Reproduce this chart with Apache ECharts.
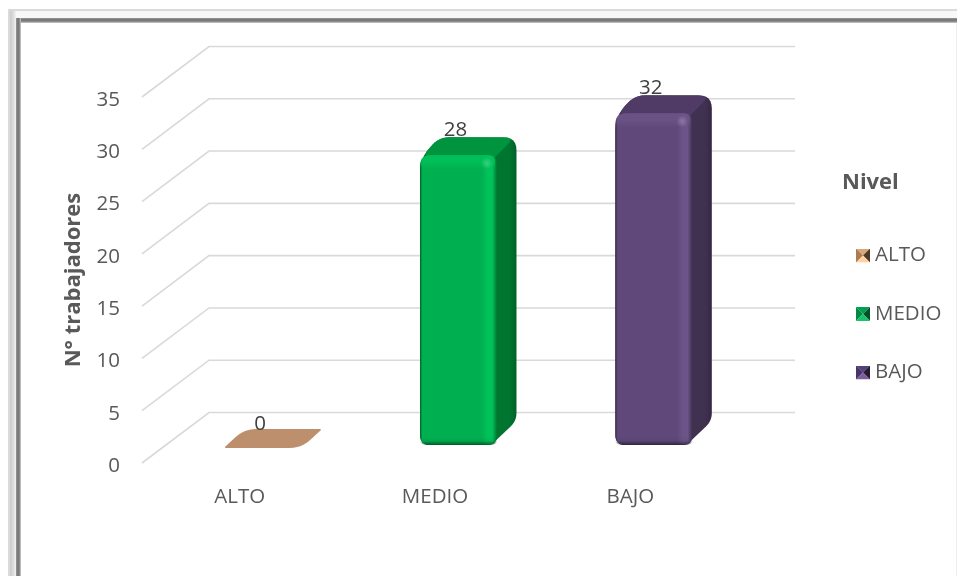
<!DOCTYPE html>
<html><head><meta charset="utf-8">
<style>html,body{margin:0;padding:0;background:#fff}#c{width:957px;height:576px}</style>
<script src="https://cdn.jsdelivr.net/npm/echarts@6/dist/echarts.min.js"></script>
</head><body><div id="c"></div>
<script>
var categories = ['ALTO', 'MEDIO', 'BAJO'];
var values = [0, 28, 32];
var yTicks = [0, 5, 10, 15, 20, 25, 30, 35];
var faceColors = ['#BE8F6D', '#00B050', '#60497A'];
var lightColors = ['#BE8F6D', '#00C25A', '#6C5488'];
var topColors = ['#BE8F6D', '#00943F', '#4F3B66'];
var sideColors = ['#BE8F6D', '#00752F', '#403151'];
var edgeColors = ['#BE8F6D', '#00602A', '#352843'];
var markerLight = ['#FFD0A0', '#17C46B', '#7A5F9C'];
var markerDark = ['#4E3A28', '#00502A', '#241A33'];
var markerTop = ['#D9A878', '#00A050', '#55407A'];
var markerLeft = ['#A97C52', '#008A45', '#46346A'];

function roundPoly(pts, radii) {
  var out = [], n = pts.length;
  for (var i = 0; i < n; i++) {
    var p = pts[i], a = pts[(i + n - 1) % n], b = pts[(i + 1) % n];
    var r = radii[i];
    var la = Math.hypot(a[0]-p[0], a[1]-p[1]) || 1, lb = Math.hypot(b[0]-p[0], b[1]-p[1]) || 1;
    var ra = Math.min(r, la/2), rb = Math.min(r, lb/2);
    var s = [p[0]+(a[0]-p[0])*ra/la, p[1]+(a[1]-p[1])*ra/la];
    var e = [p[0]+(b[0]-p[0])*rb/lb, p[1]+(b[1]-p[1])*rb/lb];
    for (var t = 0; t <= 6; t++) {
      var u = t/6;
      out.push([(1-u)*(1-u)*s[0]+2*u*(1-u)*p[0]+u*u*e[0], (1-u)*(1-u)*s[1]+2*u*(1-u)*p[1]+u*u*e[1]]);
    }
  }
  return out;
}
function lin(x0,y0,x1,y1,stops){return {type:'linear',x:x0,y:y0,x2:x1,y2:y1,colorStops:stops.map(function(s){return {offset:s[0],color:s[1]};})};}

var FLOOR_DX = 23.5, FLOOR_DY = -15, DEPTH_DX = 19.5, DEPTH_DY = -18, BAR_RATIO = 0.394;

function barItem(idx) {
  return function (params, api) {
    var c = api.value(0), v = api.value(1);
    var base = api.coord([c, 0]), topP = api.coord([c, v]);
    var w = api.size([1, 0])[0] * BAR_RATIO;
    var l = base[0] + FLOOR_DX - w/2, r = l + w;
    var yb = base[1] + FLOOR_DY, yt = topP[1] + FLOOR_DY;
    var labelX = base[0] + FLOOR_DX - 3;
    var labelY = yt + DEPTH_DY - 7;
    var children = [];
    if (v === 0) {
      children.push({type:'polygon', shape:{points:roundPoly([[l-1,yb],[r,yb],[r+DEPTH_DX+1,yb+DEPTH_DY-1],[l+DEPTH_DX,yb+DEPTH_DY-1]],[3,12,3,12])}, style:{fill:faceColors[idx]}});
      labelY = yb + DEPTH_DY - 6;
    } else {
      var ybV = yb - 3;
      children.push({type:'polygon', shape:{points:roundPoly([[l,yt+3],[l+DEPTH_DX,yt+DEPTH_DY],[r+DEPTH_DX,yt+DEPTH_DY],[r+DEPTH_DX,ybV-24],[r-6,ybV],[l,ybV]],[14,10,13,8,6,10])},
        style:{fill:lin(0,0,1,0,[[0,sideColors[idx]],[0.93,sideColors[idx]],[1,edgeColors[idx]]])}});
      children.push({type:'polygon', shape:{points:roundPoly([[l,yt+3],[l+DEPTH_DX,yt+DEPTH_DY],[r+DEPTH_DX-2,yt+DEPTH_DY+0.5],[r-6,yt+6]],[14,10,10,2])},
        style:{fill:topColors[idx]}});
      children.push({type:'polygon', shape:{points:roundPoly([[l,yt],[r,yt],[r,ybV],[l,ybV]],[11,9,9,10])},
        style:{fill:lin(0,0,1,0,[[0,edgeColors[idx]],[0.03,faceColors[idx]],[0.08,faceColors[idx]],[0.8,faceColors[idx]],[0.88,lightColors[idx]],[0.94,lightColors[idx]],[1,sideColors[idx]]])}});
      children.push({type:'polygon', shape:{points:roundPoly([[l+1,yt],[r-2,yt],[r-2,yt+14],[l+1,yt+14]],[10,8,0,0])},
        style:{fill:lin(0,0,0,1,[[0,lightColors[idx]],[0.45,lightColors[idx]],[1,lightColors[idx]+'00']]), opacity:0.8}});
      children.push({type:'polygon', shape:{points:roundPoly([[l,ybV-9],[r,ybV-9],[r,ybV],[l,ybV]],[0,0,9,10])},
        style:{fill:lin(0,0,0,1,[[0,'rgba(0,0,0,0)'],[0.55,'rgba(0,0,0,0.06)'],[1,'rgba(0,0,0,0.5)']])}});
      children.push({type:'circle', shape:{cx:r-10, cy:yt+8, r:6}, style:{fill:{type:'radial',x:0.5,y:0.5,r:0.5,colorStops:[{offset:0,color:'rgba(255,255,255,0.22)'},{offset:1,color:'rgba(255,255,255,0)'}]}}});
    }
    children.push({type:'text', z2:50, style:{x:labelX, y:labelY, text:String(v), align:'center', verticalAlign:'middle', fill:'#404040', font:'20.5px "Open Sans"'}});
    return {type:'group', children:children};
  };
}

var WALL_DX = 67, WALL_DY = -50.5, WALL_LEN = 586;
function gridItem(params, api) {
  var v = api.value(0);
  var p = api.coord([0, v]);
  var x0 = params.coordSys.x;
  var y = p[1];
  return {type:'polyline', shape:{points:[[x0,y],[x0+WALL_DX,y+WALL_DY],[x0+WALL_DX+WALL_LEN,y+WALL_DY]]},
    style:{stroke:'#D9D9D9', lineWidth:1.6, fill:null}, z2:0};
}

function pyramidIcon(i) {
  var svg = "<svg xmlns='http://www.w3.org/2000/svg' width='14' height='14'>"
    + "<polygon points='0,0 14,0 7,7' fill='" + markerTop[i] + "'/>"
    + "<polygon points='0,0 0,14 7,7' fill='" + markerLeft[i] + "'/>"
    + "<polygon points='14,0 14,14 7,7' fill='" + markerDark[i] + "'/>"
    + "<polygon points='0,14 14,14 7,7' fill='" + markerLight[i] + "'/></svg>";
  return 'image://data:image/svg+xml,' + encodeURIComponent(svg);
}

var series = [{type:'custom', name:'grid', coordinateSystem:'cartesian2d', silent:true, z:1,
  data: yTicks.map(function(t){return [t];}), encode:{y:0}, renderItem:gridItem, clip:false}];
categories.forEach(function(name, i){
  series.push({type:'custom', name:name, coordinateSystem:'cartesian2d', z:3, clip:false,
    itemStyle:{color:faceColors[i]},
    data:[[i, values[i]]], encode:{x:0,y:1}, renderItem:barItem(i)});
});

var bandStops = [[0,'#9A9A9A'],[0.4,'#707070'],[0.7,'#8C8C8C'],[1,'#D0D0D0']];
var chart = echarts.init(document.getElementById('c'), null, {renderer:'canvas'});
chart.setOption({
  animation:false,
  backgroundColor:'#fff',
  textStyle:{fontFamily:'"Open Sans"'},
  grid:{left:142, right:229, top:97, bottom:113},
  xAxis:{type:'category', data:categories, axisLine:{show:false}, axisTick:{show:false}, splitLine:{show:false},
    axisLabel:{color:'#595959', fontSize:20.5, margin:24, fontFamily:'"Open Sans"'}},
  yAxis:{type:'value', min:0, max:35, interval:5, axisLine:{show:false}, axisTick:{show:false}, splitLine:{show:false},
    name:'N° trabajadores', nameLocation:'middle', nameGap:57, nameRotate:90,
    nameTextStyle:{color:'#595959', fontSize:22, fontWeight:'bold', fontFamily:'"Open Sans"'},
    axisLabel:{color:'#595959', fontSize:20.5, margin:22, verticalAlign:'top', lineHeight:6, fontFamily:'"Open Sans"'}},
  legend:{orient:'vertical', left:856, top:245, padding:0, itemWidth:14, itemHeight:14, itemGap:37.5, selectedMode:false,
    textStyle:{color:'#595959', fontSize:20.5, fontFamily:'"Open Sans"'},
    data:categories.map(function(n,i){return {name:n, icon:pyramidIcon(i)};})},
  graphic:[
    {type:'rect', silent:true, z:0, shape:{x:8,y:9,width:949,height:567}, style:{fill:'#DADADA'}},
    {type:'rect', silent:true, z:0, shape:{x:10,y:11,width:947,height:7}, style:{fill:'#F8F8F8'}},
    {type:'rect', silent:true, z:0, shape:{x:10,y:11,width:6,height:565}, style:{fill:lin(0,0,1,0,[[0,'#CBCBCB'],[0.6,'#DEDEDE'],[1,'#F4F4F4']])}},
    {type:'rect', silent:true, z:0, shape:{x:16,y:18,width:941,height:5}, style:{fill:lin(0,0,0,1,bandStops)}},
    {type:'rect', silent:true, z:0, shape:{x:16,y:18,width:5,height:558}, style:{fill:lin(0,0,1,0,bandStops)}},
    {type:'rect', silent:true, z:0, shape:{x:21,y:23,width:936,height:553}, style:{fill:'#FFFFFF'}},
    {type:'rect', silent:true, z:0, shape:{x:956,y:23,width:1,height:553}, style:{fill:'#EDEDED'}},
    {type:'text', silent:true, z:5, style:{x:842,y:183,text:'Nivel',fill:'#595959',font:'bold 22px "Open Sans"',verticalAlign:'middle'}}
  ],
  series:series
});
</script></body></html>
